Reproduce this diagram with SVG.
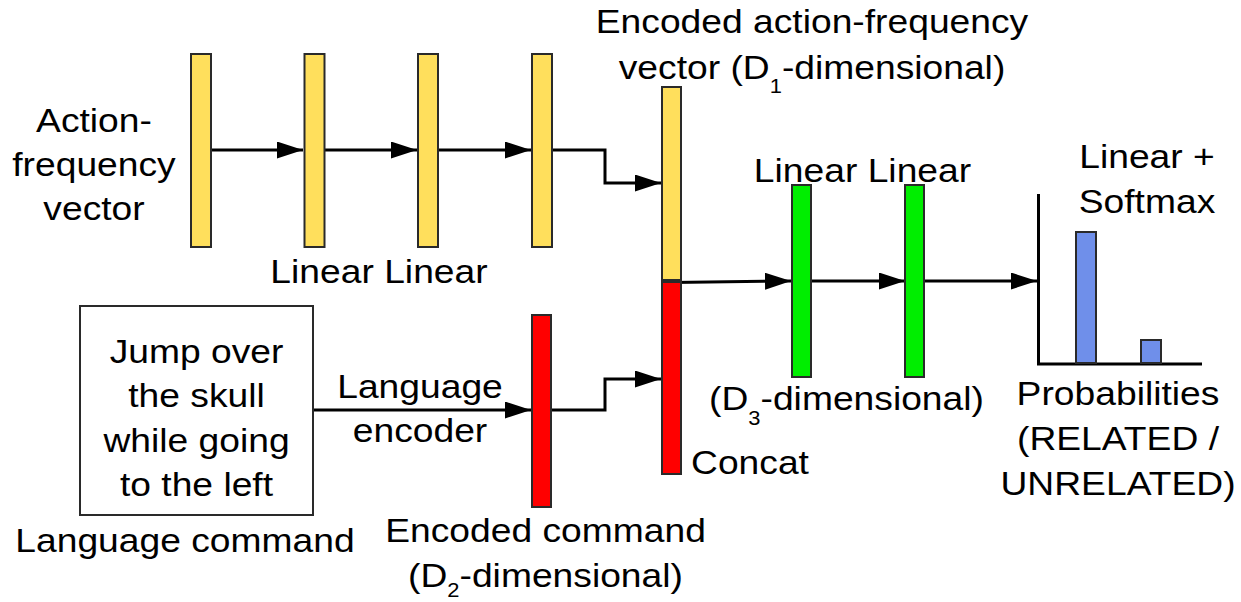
<svg xmlns="http://www.w3.org/2000/svg" width="1241" height="602" viewBox="0 0 1241 602">
<defs>
<style>
.t{font-family:"Liberation Sans",Arial,sans-serif;font-size:34px;fill:#000;text-anchor:middle}
.s{font-size:20px}
.y{fill:#ffdf5c;stroke:#2a2a2a;stroke-width:2}
.r{fill:#ff0000;stroke:#2a2a2a;stroke-width:2}
.g{fill:#00ee00;stroke:#2a2a2a;stroke-width:2}
.b{fill:#6f8fea;stroke:#2a2a2a;stroke-width:2}
.c{fill:none;stroke:#000;stroke-width:3;marker-end:url(#ah)}
</style>
<marker id="ah" markerUnits="userSpaceOnUse" markerWidth="27" markerHeight="18" refX="26" refY="8.5" orient="auto">
<path d="M0,0 L26,8.5 L0,17 z" fill="#000"/>
</marker>
</defs>
<rect width="1241" height="602" fill="#fff"/>

<g id="connectors">
<path class="c" d="M211,150 H303"/>
<path class="c" d="M325,150 H417"/>
<path class="c" d="M438,150 H531"/>
<path class="c" d="M552,150 H605 V183 H661"/>
<path class="c" d="M313,410 H531"/>
<path class="c" d="M552,410 H605 V379 H661"/>
<path class="c" d="M672,282.5 L791,281"/>
<path class="c" d="M811,281 H905"/>
<path class="c" d="M925,281 H1037"/>
</g>

<g id="action-frequency-input">
<text class="t" transform="translate(94 0) scale(1.095 1)" x="0" y="132">Action-</text>
<text class="t" transform="translate(94 0) scale(1.095 1)" x="0" y="176">frequency</text>
<text class="t" transform="translate(94 0) scale(1.095 1)" x="0" y="220">vector</text>
</g>

<g id="yellow-bar-1"><rect class="y" x="191" y="54" width="20" height="193"/></g>
<g id="yellow-bar-2"><rect class="y" x="304.5" y="54" width="20" height="193"/></g>
<g id="yellow-bar-3"><rect class="y" x="418" y="54" width="20" height="193"/></g>
<g id="yellow-bar-4"><rect class="y" x="532" y="54" width="20" height="193"/></g>
<g id="label-linear-linear-1">
<text class="t" transform="translate(379 0) scale(1.095 1)" x="0" y="283">Linear Linear</text>
</g>

<g id="language-command">
<rect x="80" y="306" width="233" height="209" fill="#fff" stroke="#2a2a2a" stroke-width="2"/>
<text class="t" transform="translate(196.5 0) scale(1.095 1)" x="0" y="363">Jump over</text>
<text class="t" transform="translate(196.5 0) scale(1.095 1)" x="0" y="407">the skull</text>
<text class="t" transform="translate(196.5 0) scale(1.095 1)" x="0" y="452">while going</text>
<text class="t" transform="translate(196.5 0) scale(1.095 1)" x="0" y="496">to the left</text>
<text class="t" transform="translate(185 0) scale(1.095 1)" x="0" y="552">Language command</text>
</g>

<g id="label-language-encoder">
<text class="t" transform="translate(420 0) scale(1.095 1)" x="0" y="398">Language</text>
<text class="t" transform="translate(420 0) scale(1.095 1)" x="0" y="442">encoder</text>
</g>

<g id="encoded-command">
<rect class="r" x="532" y="315" width="19" height="192"/>
<text class="t" transform="translate(545.5 0) scale(1.095 1)" x="0" y="542">Encoded command</text>
<text class="t" transform="translate(545.5 0) scale(1.095 1)" x="0" y="587">(D<tspan class="s" dy="10">2</tspan><tspan dy="-10">-dimensional)</tspan></text>
</g>

<g id="concat">
<rect class="y" x="662" y="87" width="19" height="193"/>
<rect class="r" x="662" y="282" width="19" height="192"/>
<text class="t" style="text-anchor:start" transform="translate(691 0) scale(1.095 1)" x="0" y="474">Concat</text>
<text class="t" transform="translate(812 0) scale(1.095 1)" x="0" y="33">Encoded action-frequency</text>
<text class="t" transform="translate(812 0) scale(1.095 1)" x="0" y="79">vector (D<tspan class="s" dy="14">1</tspan><tspan dy="-14">-dimensional)</tspan></text>
</g>

<g id="green-bar-1"><rect class="g" x="792" y="185" width="19" height="192"/></g>
<g id="green-bar-2"><rect class="g" x="905" y="185" width="19" height="192"/></g>
<g id="label-linear-linear-2">
<text class="t" transform="translate(862.5 0) scale(1.095 1)" x="0" y="182">Linear Linear</text>
<text class="t" transform="translate(846.5 0) scale(1.095 1)" x="0" y="410">(D<tspan class="s" dy="15">3</tspan><tspan dy="-15">-dimensional)</tspan></text>
</g>

<g id="probabilities">
<path d="M1038.5,194 V364 H1202" fill="none" stroke="#000" stroke-width="3"/>
<rect class="b" x="1076" y="232" width="20" height="131"/>
<rect class="b" x="1141" y="340" width="20" height="23"/>
<text class="t" transform="translate(1147 0) scale(1.095 1)" x="0" y="168">Linear +</text>
<text class="t" transform="translate(1147 0) scale(1.095 1)" x="0" y="213">Softmax</text>
<text class="t" transform="translate(1118 0) scale(1.095 1)" x="0" y="405">Probabilities</text>
<text class="t" transform="translate(1118 0) scale(1.095 1)" x="0" y="450">(RELATED /</text>
<text class="t" transform="translate(1118 0) scale(1.095 1)" x="0" y="495">UNRELATED)</text>
</g>
</svg>
